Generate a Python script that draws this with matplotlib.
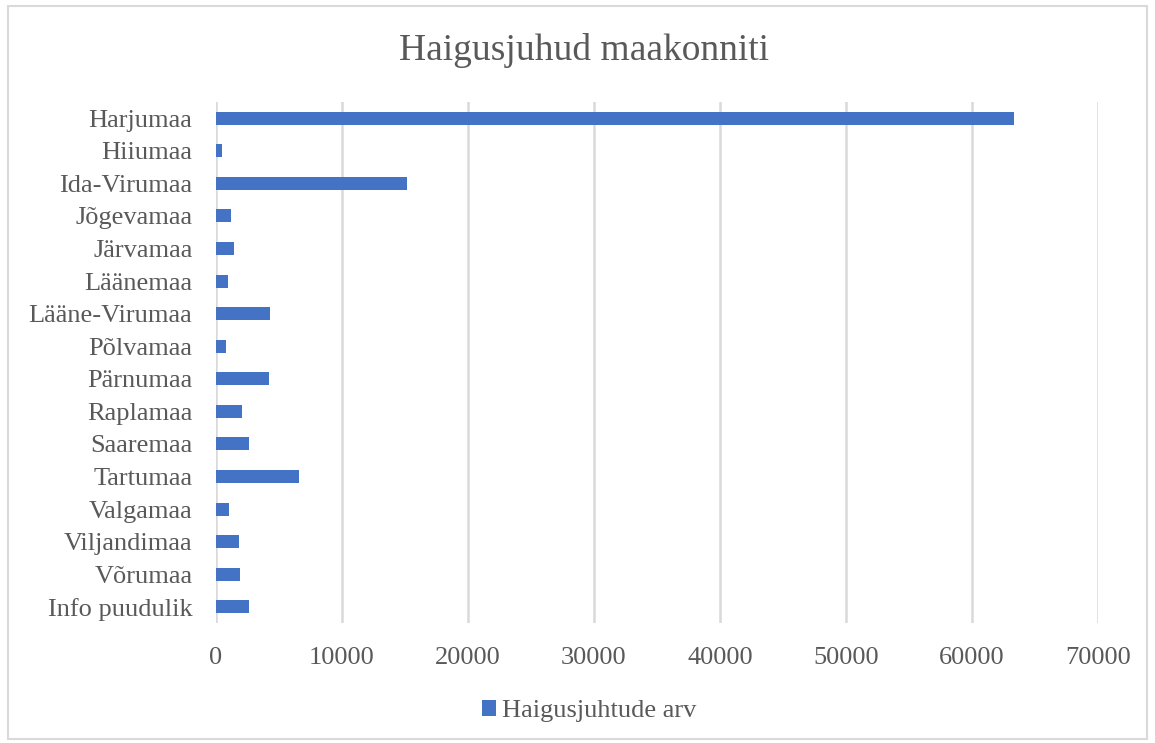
import numpy as np
import matplotlib.pyplot as plt
from matplotlib.patches import Rectangle

# Data
maakonnad = ['Harjumaa', 'Hiiumaa', 'Ida-Virumaa', 'Jõgevamaa', 'Järvamaa',
              'Läänemaa', 'Lääne-Virumaa', 'Põlvamaa', 'Pärnumaa', 'Raplamaa',
              'Saaremaa', 'Tartumaa', 'Valgamaa', 'Viljandimaa', 'Võrumaa',
              'Info puudulik']
juhud = [63340, 500, 15160, 1190, 1450, 980, 4260, 790, 4230, 2090,
         2650, 6590, 1060, 1800, 1930, 2620]
x_ticks = [0, 10000, 20000, 30000, 40000, 50000, 60000, 70000]
seeria = 'Haigusjuhtude arv'

plt.rcParams['font.family'] = ['Liberation Serif', 'DejaVu Serif']
text_color = '#595959'

fig = plt.figure(figsize=(11.55, 7.43), dpi=100)
W, H = 1155, 743
ax = fig.add_axes([216 / W, 1 - 623 / H, (1098 - 216) / W, (623 - 102) / H])

y = np.arange(len(maakonnad))
ax.barh(y, juhud, height=0.4, color='#4472C4', label=seeria, zorder=3)

ax.set_xlim(0, 70000)
ax.set_ylim(len(maakonnad) - 0.5, -0.5)
ax.set_xticks(x_ticks)
ax.set_xticklabels([str(t) for t in x_ticks])
ax.set_yticks(y)
ax.set_yticklabels(maakonnad)
ax.tick_params(axis='both', length=0, colors=text_color)
ax.tick_params(axis='x', pad=17, labelsize=19)
ax.tick_params(axis='y', pad=17, labelsize=19)
ax.grid(axis='x', color='#d9d9d9', linewidth=1.8, zorder=0)
for s in ax.spines.values():
    s.set_visible(False)

fig.text(584 / W, 1 - 51 / H, 'Haigusjuhud maakonniti', ha='center', va='center',
         fontsize=27, color=text_color)

leg = fig.legend(loc='center', bbox_to_anchor=(589 / W, 1 - 711 / H), frameon=False,
                 fontsize=19, handlelength=0.55, handleheight=0.55, handletextpad=0.2)
for t in leg.get_texts():
    t.set_color(text_color)

fig.patches.append(Rectangle((8 / W, 4 / H), 1 - 16 / W, 1 - 10 / H,
                             transform=fig.transFigure, fill=False,
                             edgecolor='#d9d9d9', linewidth=1.5))

fig.savefig('out.png', dpi=100)
